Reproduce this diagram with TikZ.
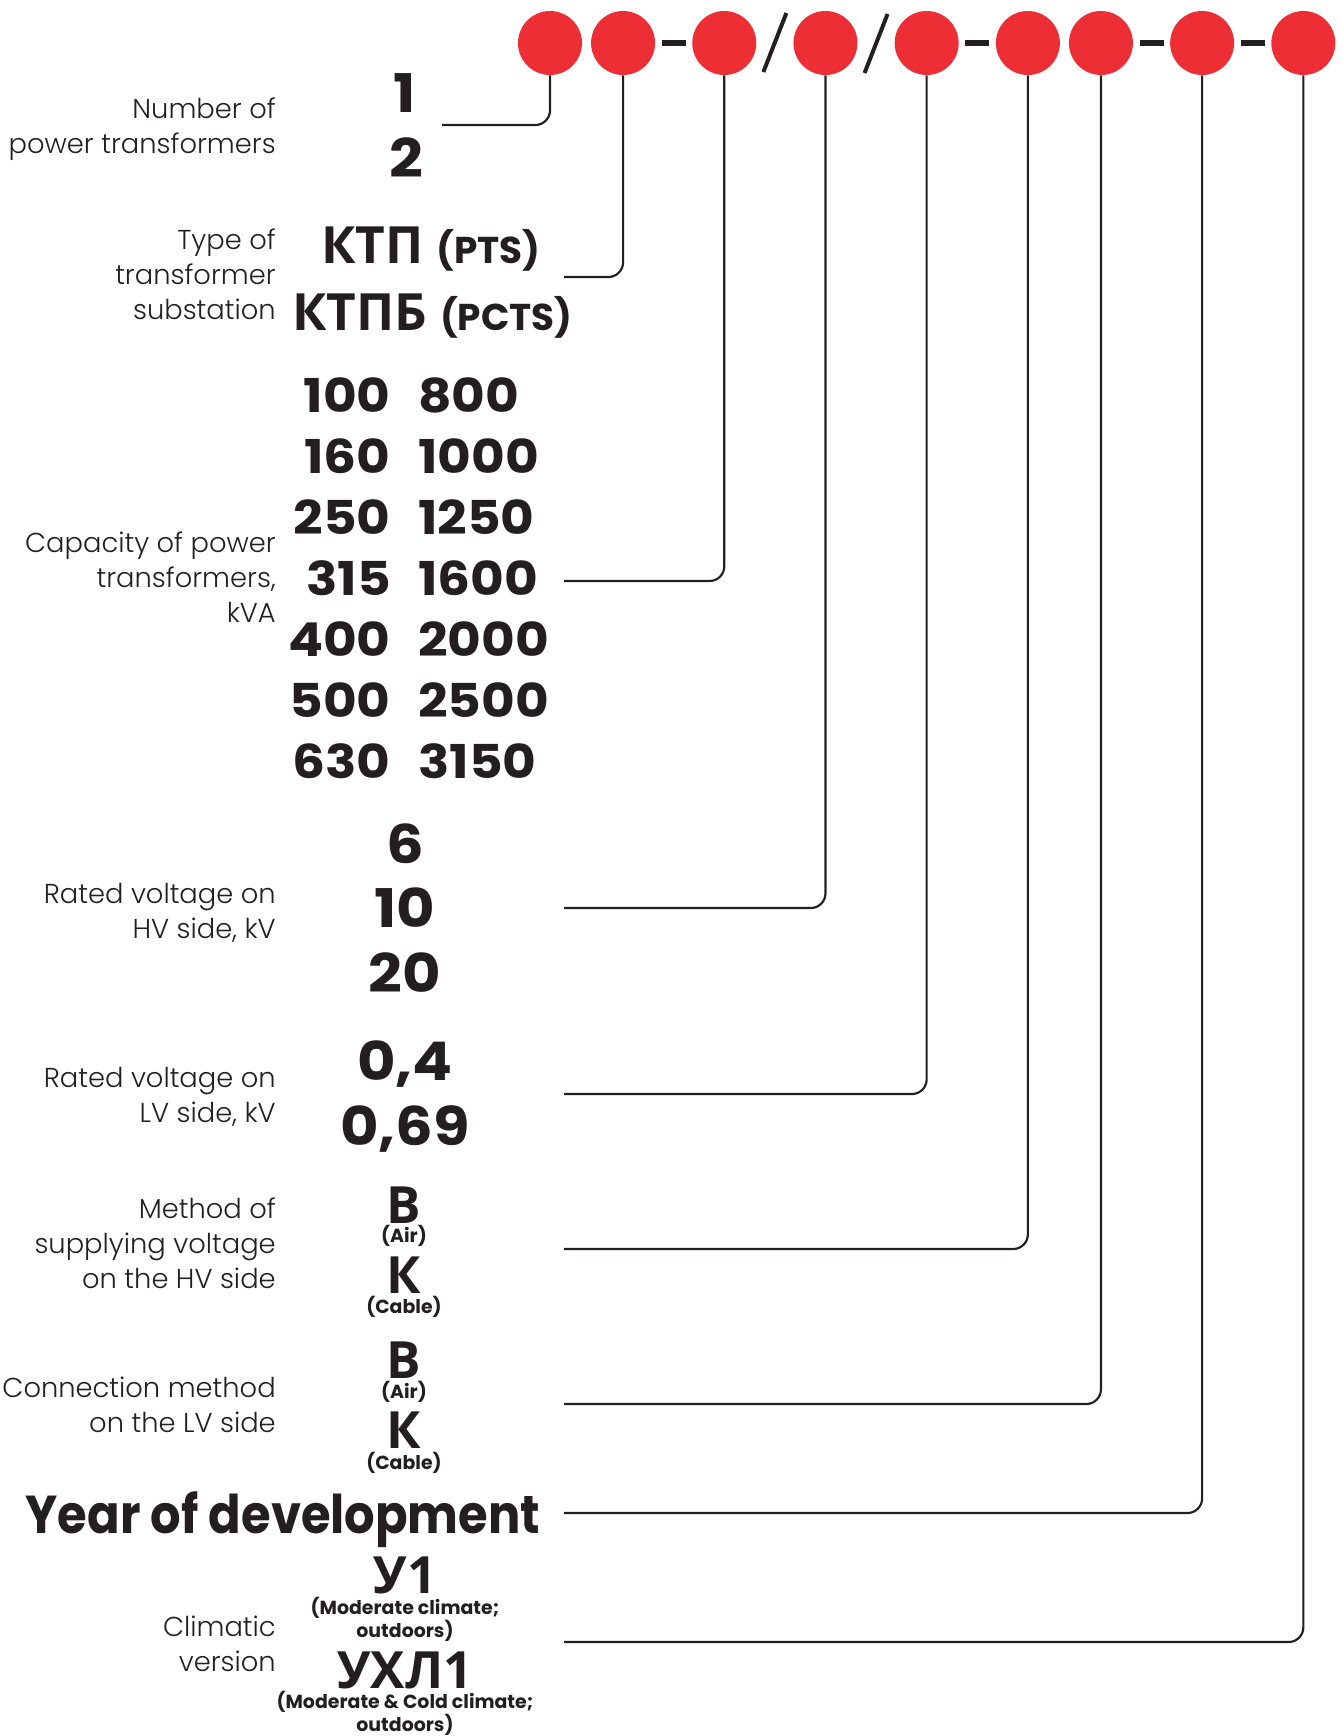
\documentclass[tikz,border=0pt]{standalone}
\usepackage{fontspec}
\setmainfont{Poppins}[UprightFont=* Light, BoldFont=* Bold]
\newfontfamily\cyrfont{Open Sans}
\newfontfamily\numfont{Poppins}[UprightFont=* Bold, FakeStretch=1.11]
\newfontfamily\headfont{Poppins}[UprightFont=* Bold, FakeStretch=0.90]
\usetikzlibrary{positioning, calc}
\definecolor{codered}{HTML}{EE2E35}
\definecolor{ink}{HTML}{231F20}

\begin{document}
\begin{tikzpicture}[
  x=0.75pt, y=-0.75pt,
  digit/.style     = {circle, fill=codered, minimum size=48pt, inner sep=0pt},
  dashsep/.style   = {rectangle, fill=ink, minimum width=18pt,
                      minimum height=4.5pt, inner sep=0pt},
  slashsep/.style  = {draw=ink, line width=3pt},
  lead/.style      = {draw=ink, line width=1.6pt, rounded corners=11pt},
  caption/.style   = {font=\fontsize{20.5}{25.9}\selectfont, text=ink,
                      align=right, anchor=base east, inner sep=0pt},
  value/.style     = {font=\numfont\fontsize{40}{40}\selectfont, text=ink,
                      anchor=base, inner sep=0pt},
  letter/.style    = {value, font=\cyrfont\bfseries\fontsize{38.5}{40}\selectfont},
  kva/.style       = {font=\numfont\fontsize{35}{35}\selectfont, text=ink,
                      inner sep=0pt},
  note/.style      = {font=\bfseries\fontsize{14.2}{13.6}\selectfont, text=ink,
                      align=center, anchor=base, inner sep=0pt},
]
\useasboundingbox (0,0) rectangle (1342,1736);

% =============================================================
% Code positions (red circles) with separators
% =============================================================
\node[digit] (c1) at (550,43) {};
\node[digit, right=6.4pt of c1]  (c2) {};
\node[digit, right=27.5pt of c2] (c3) {};
\node[digit, right=27.5pt of c3] (c4) {};
\node[digit, right=27.5pt of c4] (c5) {};
\node[digit, right=27.5pt of c5] (c6) {};
\node[digit, right=6.4pt of c6]  (c7) {};
\node[digit, right=27.5pt of c7] (c8) {};
\node[digit, right=27.5pt of c8] (c9) {};

\node[dashsep] (d1) at ($(c2)!0.5!(c3)$) {};
\node[dashsep] (d2) at ($(c5)!0.5!(c6)$) {};
\node[dashsep] (d3) at ($(c7)!0.5!(c8)$) {};
\node[dashsep] (d4) at ($(c8)!0.5!(c9)$) {};

\draw[slashsep] ($(c3)!0.5!(c4)+(-11.5,29)$) -- ++(23,-59);
\draw[slashsep] ($(c4)!0.5!(c5)+(-11.5,30)$) -- ++(23,-59);

% =============================================================
% Captions (left column), placed at the baseline of the last line
% =============================================================
\node[caption] (l1) at (276,153)  {Number of\\power transformers};
\node[caption] (l2) at (276,319)  {Type of\\transformer\\substation};
\node[caption] (l3) at (276,622)  {Capacity of power\\transformers,\\kVA};
\node[caption] (l4) at (276,938)  {Rated voltage on\\HV side, kV};
\node[caption] (l5) at (276,1122) {Rated voltage on\\LV side, kV};
\node[caption] (l6) at (276,1288) {Method of\\supplying voltage\\on the HV side};
\node[caption] (l7) at (276,1432) {Connection method\\on the LV side};
\node[caption] (l9) at (276,1671) {Climatic\\version};
\node[value, font=\headfont\fontsize{40}{40}\selectfont]
  (l8) at (283,1533) {Year of development};

% =============================================================
% Values
% =============================================================
% --- number of transformers ---
\node[value] (n1) at (405,112) {1};
\node[value] (n2) at (406,177) {2};

% --- substation type ---
\node[value, anchor=base west] (t1) at (321,263)
  {{\cyrfont\bfseries\fontsize{38.5}{40}\selectfont КТП}
   {\rmfamily\bfseries\fontsize{28}{28}\selectfont (PTS)}};
\node[value, anchor=base west] (t2) at (292,330)
  {{\cyrfont\bfseries\fontsize{38.5}{40}\selectfont КТПБ}
   {\rmfamily\bfseries\fontsize{28}{28}\selectfont (PCTS)}};

% --- capacity, kVA ---
\foreach \lo/\hi [count=\i from 0] in
    {100/800, 160/1000, 250/1250, 315/1600, 400/2000, 500/2500, 630/3150} {
  \node[kva, anchor=base east] (kl\i) at (391,412+61*\i) {\lo};
  \node[kva, anchor=base west] (kh\i) at (418,412+61*\i) {\hi};
}

% --- HV voltage ---
\node[value] (hv1) at (405,863) {6};
\node[value] (hv2) at (405,927) {10};
\node[value] (hv3) at (405,992) {20};

% --- LV voltage ---
\node[value] (lv1) at (405,1080) {0,4};
\node[value] (lv2) at (405,1145) {0,69};

% --- HV supply ---
\node[letter] (s1) at (404,1223) {В};
\node[note] (s1n) at (404,1242) {(Air)};
\node[letter] (s2) at (404,1293) {К};
\node[note] (s2n) at (404,1313) {(Cable)};

% --- LV connection ---
\node[letter] (k1) at (404,1378) {В};
\node[note] (k1n) at (404,1398) {(Air)};
\node[letter] (k2) at (404,1448) {К};
\node[note] (k2n) at (404,1469) {(Cable)};

% --- climatic version ---
\node[letter] (u1) at (405,1593) {У1};
\node[note] (u1n) at (405,1637) {(Moderate climate;\\outdoors)};
\node[letter] (u2) at (405,1688) {УХЛ1};
\node[note] (u2n) at (405,1731) {(Moderate \& Cold climate;\\outdoors)};

% =============================================================
% Leader lines
% =============================================================
\coordinate (e1) at (442,125);
\coordinate (e2) at (564,277);
\coordinate (e3) at (564,581);
\coordinate (e4) at (564,908);
\coordinate (e5) at (564,1094);
\coordinate (e6) at (564,1249);
\coordinate (e7) at (564,1404);
\coordinate (e8) at (564,1513);
\coordinate (e9) at (564,1642);

\foreach \i in {1,...,9}
  \draw[lead] (c\i.south) |- (e\i);

\end{tikzpicture}
\end{document}
